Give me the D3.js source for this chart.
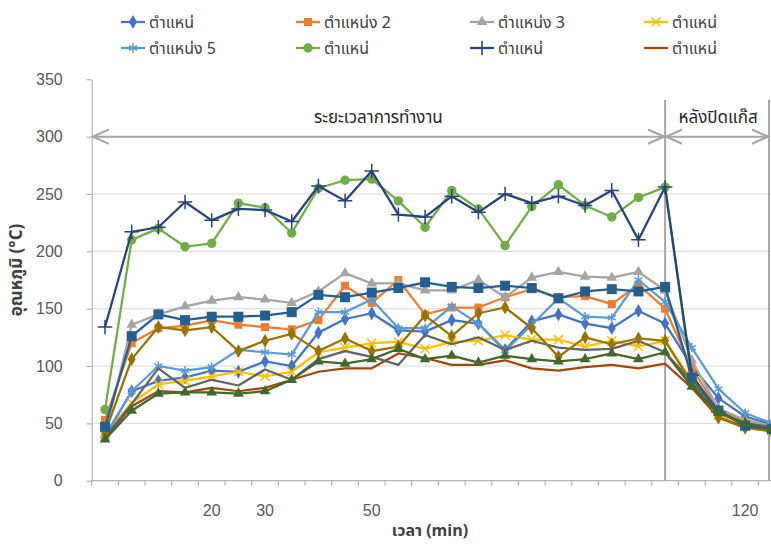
<!DOCTYPE html>
<html>
<head>
<meta charset="utf-8">
<script src="https://cdn.jsdelivr.net/npm/d3@7"></script>
<style>
  body { margin: 0; background: #fff; }
  svg { display: block; font-family: Tahoma, "Noto Sans Thai", "Leelawadee UI", "DejaVu Sans", sans-serif; }
</style>
</head>
<body>
<svg width="771" height="546"></svg>
<script>
// time in minutes, only some of them labelled on the axis
var times = [0,5,10,15,20,25,30,35,40,45,50,55,60,65,70,75,80,85,90,95,100,105,110,115,120,125];
var xLabels = ["","","","","20","","30","","","","50","","","","","","","","","","","","","","120",""];
var yTicks = [0,50,100,150,200,250,300,350];

var names = ["ตำแหน่","ตำแหน่ง 2","ตำแหน่ง 3","ตำแหน่","ตำแหน่ง 5","ตำแหน่","ตำแหน่","ตำแหน่","","","",""];

var s1  = [39,78,87,90,96,95,104,100,129,141,146,131,130,140,137,114,139,145,137,133,148,137,100,72,56,49];
var s2  = [53,120,133,135,140,136,134,132,140,170,155,175,145,151,151,160,167,160,161,154,171,150,98,62,51,46];
var s3  = [40,136,145,152,157,160,158,155,165,181,172,172,166,166,175,160,177,182,178,177,182,166,105,63,53,48];
var s4  = [40,68,84,87,91,95,91,95,112,116,120,121,115,121,122,127,123,123,117,122,117,122,87,57,47,44];
var s5  = [38,78,100,96,99,114,112,110,147,147,158,133,133,152,137,113,136,159,143,142,175,156,116,80,59,50];
var s6  = [62,210,220,204,207,242,238,216,255,262,263,244,221,253,237,205,239,258,240,230,247,256,88,60,49,46];
var s7  = [134,217,221,243,227,237,236,226,257,244,270,232,230,248,234,250,242,248,240,253,210,256,92,60,49,45];
var s8  = [37,65,78,77,81,78,81,88,95,98,98,111,107,101,101,105,98,96,99,101,98,102,81,55,47,44];
var s9  = [38,67,98,81,88,83,97,88,106,113,108,101,127,119,125,114,122,116,114,115,122,112,86,60,50,47];
var s10 = [42,106,134,131,134,113,122,128,113,124,113,117,144,126,146,151,133,108,125,119,124,122,85,55,46,43];
var s11 = [47,126,145,140,143,143,144,147,162,160,164,168,173,169,168,170,168,159,165,167,165,169,90,61,48,45];
var s12 = [36,61,76,77,77,76,78,88,104,102,106,115,106,109,103,109,106,104,106,111,106,112,82,59,50,45];

var colors = ["#4472C4","#ED7D31","#A5A5A5","#FFC000","#5B9BD5","#70AD47","#264478","#9E480E","#636363","#997300","#255E91","#43682B"];
var markers = ["diamond","square","triangle","times","asterisk","circle","plus","none","none","diamond","square","triangle"];

var series = [s1,s2,s3,s4,s5,s6,s7,s8,s9,s10,s11,s12].map(function(v,i){
  return {name: names[i], values: v, color: colors[i], marker: markers[i]};
});

var plotLeft = 91.7, step = 26.67, plotTop = 79.3, plotBottom = 480.7;

var svg = d3.select("svg");

var x = d3.scaleBand()
  .domain(d3.range(times.length))
  .range([plotLeft, plotLeft + step*times.length])
  .padding(0);
var xc = function(i){ return x(i) + x.bandwidth()/2; };

var y = d3.scaleLinear().domain([0,350]).range([plotBottom, plotTop]);

// gridlines
svg.append("g").selectAll("line")
  .data([50,100,150,200,250,300])
  .enter().append("line")
  .attr("x1", plotLeft).attr("x2", 771)
  .attr("y1", function(d){return y(d);}).attr("y2", function(d){return y(d);})
  .attr("stroke", "#D9D9D9").attr("stroke-width", 1);

// y axis
var yAxis = svg.append("g")
  .attr("transform", "translate(" + plotLeft + ",0)")
  .call(d3.axisLeft(y).tickValues(yTicks).tickSize(5).tickSizeOuter(0).tickPadding(24));
yAxis.select(".domain").attr("stroke", "#A6A6A6");
yAxis.selectAll(".tick line").attr("stroke", "#A6A6A6");
yAxis.selectAll("text").attr("fill", "#595959").attr("font-size", 16);

// x axis: ticks between categories
var bounds = d3.range(times.length + 1).map(function(i){ return plotLeft + i*step; });
svg.append("line")
  .attr("x1", plotLeft).attr("x2", 771).attr("y1", plotBottom).attr("y2", plotBottom)
  .attr("stroke", "#A6A6A6");
svg.append("g").selectAll("line")
  .data(bounds)
  .enter().append("line")
  .attr("x1", function(d){return d;}).attr("x2", function(d){return d;})
  .attr("y1", plotBottom).attr("y2", plotBottom + 5)
  .attr("stroke", "#A6A6A6");

var xAxis = svg.append("g")
  .attr("transform", "translate(0," + plotBottom + ")")
  .call(d3.axisBottom(x).tickSize(0).tickPadding(24).tickFormat(function(i){ return xLabels[i]; }));
xAxis.select(".domain").remove();
xAxis.selectAll("text").attr("fill", "#595959").attr("font-size", 16);

// axis titles
svg.append("text")
  .attr("x", 430).attr("y", 536)
  .attr("text-anchor", "middle")
  .attr("font-size", 16).attr("font-weight", "bold").attr("fill", "#404040")
  .text("เวลา (min)");
svg.append("text")
  .attr("transform", "translate(22,270) rotate(-90)")
  .attr("text-anchor", "middle")
  .attr("font-size", 17).attr("font-weight", "bold").attr("fill", "#404040")
  .text("อุณหภูมิ (°C)");

// period annotation
var xOff = xc(21), xEnd = 769;
svg.append("defs").html(
  '<marker id="arr" viewBox="0 0 10 10" refX="9" refY="5" markerWidth="9" markerHeight="9" orient="auto-start-reverse">' +
  '<path d="M0,1 L9,5 L0,9" fill="none" stroke="#A6A6A6" stroke-width="1.2"/></marker>');
[xOff, xEnd].forEach(function(d){
  svg.append("line")
    .attr("x1", d).attr("x2", d).attr("y1", y(332)).attr("y2", plotBottom)
    .attr("stroke", "#A6A6A6").attr("stroke-width", 2);
});
[[plotLeft, xOff], [xOff, xEnd]].forEach(function(p){
  svg.append("line")
    .attr("x1", p[0] + 1).attr("x2", p[1] - 1).attr("y1", y(300)).attr("y2", y(300))
    .attr("stroke", "#A6A6A6").attr("stroke-width", 2)
    .attr("marker-start", "url(#arr)").attr("marker-end", "url(#arr)");
});
svg.append("text").attr("x", (plotLeft + xOff)/2).attr("y", 123)
  .attr("text-anchor", "middle").attr("font-size", 17).attr("fill", "#262626")
  .text("ระยะเวลาการทำงาน");
svg.append("text").attr("x", (xOff + xEnd)/2 + 1).attr("y", 123)
  .attr("text-anchor", "middle").attr("font-size", 17).attr("fill", "#262626")
  .text("หลังปิดแก๊ส");

// markers
function symbolFor(m) {
  var t = {diamond: [d3.symbolDiamond, 55], square: [d3.symbolSquare, 64], triangle: [d3.symbolTriangle, 50],
           circle: [d3.symbolCircle, 70], times: [d3.symbolTimes, 55], asterisk: [d3.symbolAsterisk, 60],
           plus: [d3.symbolPlus, 70]}[m];
  return d3.symbol().type(t[0]).size(t[1])();
}
var stroked = {times: 1, asterisk: 1, plus: 1};

function drawMarker(g, m, color, big) {
  if (m === "none") return g;
  var p = g.append("path").attr("d", symbolFor(m));
  if (stroked[m]) p.attr("fill", "none").attr("stroke", color).attr("stroke-width", 1.5);
  else p.attr("fill", color);
  if (big) p.attr("transform", "scale(1.25)");
  return p;
}

var line = d3.line()
  .x(function(d,i){ return xc(i); })
  .y(function(d){ return y(d); });

var plot = svg.append("g");
series.forEach(function(s, si){
  var g = plot.append("g");
  g.append("path")
    .attr("d", line(s.values))
    .attr("fill", "none")
    .attr("stroke", s.color)
    .attr("stroke-width", 2.25)
    .attr("stroke-linejoin", "round");
  s.values.forEach(function(v, i){
    var mg = g.append("g").attr("transform", "translate(" + xc(i) + "," + y(v) + ")");
    drawMarker(mg, s.marker, s.color, si === 10);
  });
});

// legend: only the first eight series
var legendCols = [121, 296, 470, 644], legendRows = [22, 48];
series.slice(0, 8).forEach(function(s, i){
  var lx = legendCols[i % 4], ly = legendRows[Math.floor(i / 4)];
  var g = svg.append("g").attr("transform", "translate(" + lx + "," + ly + ")");
  g.append("line").attr("x1", 0).attr("x2", 24).attr("stroke", s.color).attr("stroke-width", 2.25);
  var mg = g.append("g").attr("transform", "translate(12,0)");
  drawMarker(mg, s.marker, s.color, false);
  g.append("text").attr("x", 28).attr("y", 6)
    .attr("font-size", 16).attr("fill", "#404040")
    .text(s.name);
});
</script>
</body>
</html>
